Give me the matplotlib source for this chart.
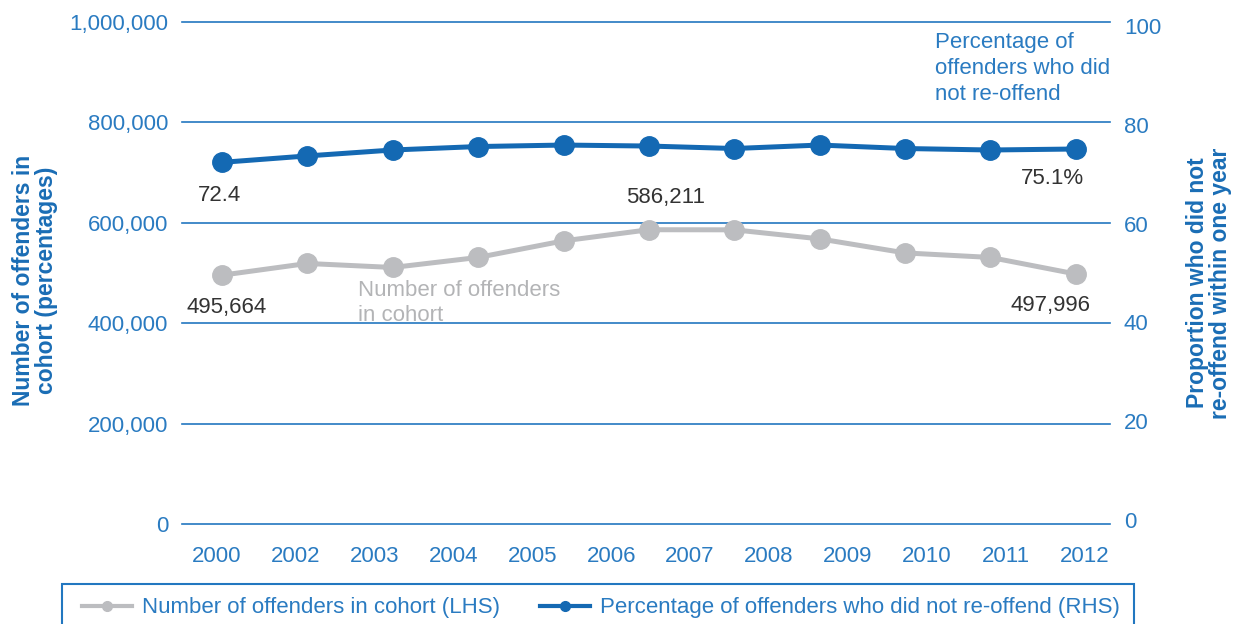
import numpy as np
import matplotlib.pyplot as plt
from matplotlib.lines import Line2D
from matplotlib.patches import Rectangle

plt.rcParams['font.family'] = ['Liberation Sans', 'DejaVu Sans']

# Cohort sizes (left axis) and share not re-offending (right axis)
years = ['2000', '2002', '2003', '2004', '2005', '2006', '2007', '2008', '2009', '2010', '2011', '2012']
cohort = [495664, 519000, 511000, 531000, 564000, 586211, 586000, 568000, 540000, 531000, 497996]
pct_not_reoffend = [72.4, 73.7, 74.9, 75.6, 75.9, 75.7, 75.2, 75.9, 75.2, 74.9, 75.1]

left_ticks = [0, 200000, 400000, 600000, 800000, 1000000]
right_ticks = [0, 20, 40, 60, 80, 100]

BLUE = '#1469b3'
TICK_BLUE = '#2a7bc1'
GRID_BLUE = '#2277c0'
GREY = '#bcbdc0'
DARK = '#333333'

W, H = 1236, 624
fig = plt.figure(figsize=(W / 100, H / 100), dpi=100)
ax = fig.add_axes([182 / W, (H - 524) / H, (1110 - 182) / W, 502 / H])
ax2 = ax.twinx()

x = np.arange(len(cohort))
ax.set_xlim(-0.468, 10.40)
ax.set_ylim(0, 1000000)
ax2.set_ylim(-0.81, 100.81)

for a in (ax, ax2):
    for s in a.spines.values():
        s.set_visible(False)

# horizontal grid
for v in left_ticks:
    ax.axhline(v, color=GRID_BLUE, lw=1.2, clip_on=False, zorder=1)

ax.set_yticks(left_ticks)
ax.set_yticklabels([f'{v:,}' for v in left_ticks])
ax.tick_params(axis='y', length=0, pad=10, labelsize=16, labelcolor=TICK_BLUE)
ax2.set_yticks(right_ticks)
ax2.tick_params(axis='y', length=0, pad=10, labelsize=16, labelcolor=TICK_BLUE)

ax.set_xticks(np.linspace(-0.06, 10.1, len(years)))
ax.set_xticklabels(years)
ax.tick_params(axis='x', length=0, pad=16, labelsize=16, labelcolor=TICK_BLUE)

ax.plot(x, cohort, color=GREY, lw=3.6, marker='o', ms=14, zorder=3, clip_on=False)
ax2.plot(x, pct_not_reoffend, color=BLUE, lw=3.6, marker='o', ms=14, zorder=3, clip_on=False)

# value labels on the end points and the peak
lab = dict(fontsize=16, color=DARK, ha='center', va='center', textcoords='offset points')
ax2.annotate(f'{pct_not_reoffend[0]}', (0, pct_not_reoffend[0]), xytext=(-2, -24), **lab)
ax2.annotate(f'{pct_not_reoffend[-1]}%', (x[-1], pct_not_reoffend[-1]), xytext=(-17, -21), **lab)
ax.annotate(f'{cohort[0]:,}', (0, cohort[0]), xytext=(3, -23), **lab)
ax.annotate(f'{cohort[5]:,}', (5, cohort[5]), xytext=(12, 23), **lab)
ax.annotate(f'{cohort[-1]:,}', (x[-1], cohort[-1]), xytext=(-18, -23), **lab)

# series captions
fig.text(935 / W, 1 - 32 / H, 'Percentage of\noffenders who did\nnot re-offend',
         fontsize=16, color=TICK_BLUE, ha='left', va='top', linespacing=1.3)
fig.text(358 / W, 1 - 280 / H, 'Number of offenders\nin cohort',
         fontsize=16, color='#b3b4b6', ha='left', va='top', linespacing=1.22)

# axis titles
fig.text(35 / W, 1 - 280 / H, 'Number of offenders in\ncohort (percentages)',
         rotation=90, fontsize=16.5, fontweight='bold', color='#1a6db5',
         ha='center', va='center', multialignment='center', linespacing=1.02)
fig.text(1209 / W, 1 - 283 / H, 'Proportion who did not\nre-offend within one year',
         rotation=90, fontsize=16.5, fontweight='bold', color='#1a6db5',
         ha='center', va='center', multialignment='center', linespacing=1.02)

# legend in an open box along the bottom
fig.add_artist(Rectangle((62 / W, -0.2), (1134 - 62) / W, 0.2 + (H - 584) / H,
                         transform=fig.transFigure, fill=False, edgecolor=GRID_BLUE, lw=1.5))
handles = [
    Line2D([], [], color=GREY, lw=3, marker='o', ms=7),
    Line2D([], [], color=BLUE, lw=3, marker='o', ms=7),
]
labels = ['Number of offenders in cohort (LHS)',
          'Percentage of offenders who did not re-offend (RHS)']
leg = fig.legend(handles, labels, ncol=2, frameon=False, fontsize=16,
                 loc='center left', bbox_to_anchor=(82 / W, 1 - 608 / H),
                 handlelength=2.25, handletextpad=0.45, columnspacing=1.8,
                 borderpad=0, borderaxespad=0)
for t in leg.get_texts():
    t.set_color(TICK_BLUE)

fig.savefig('out.png', dpi=100)
